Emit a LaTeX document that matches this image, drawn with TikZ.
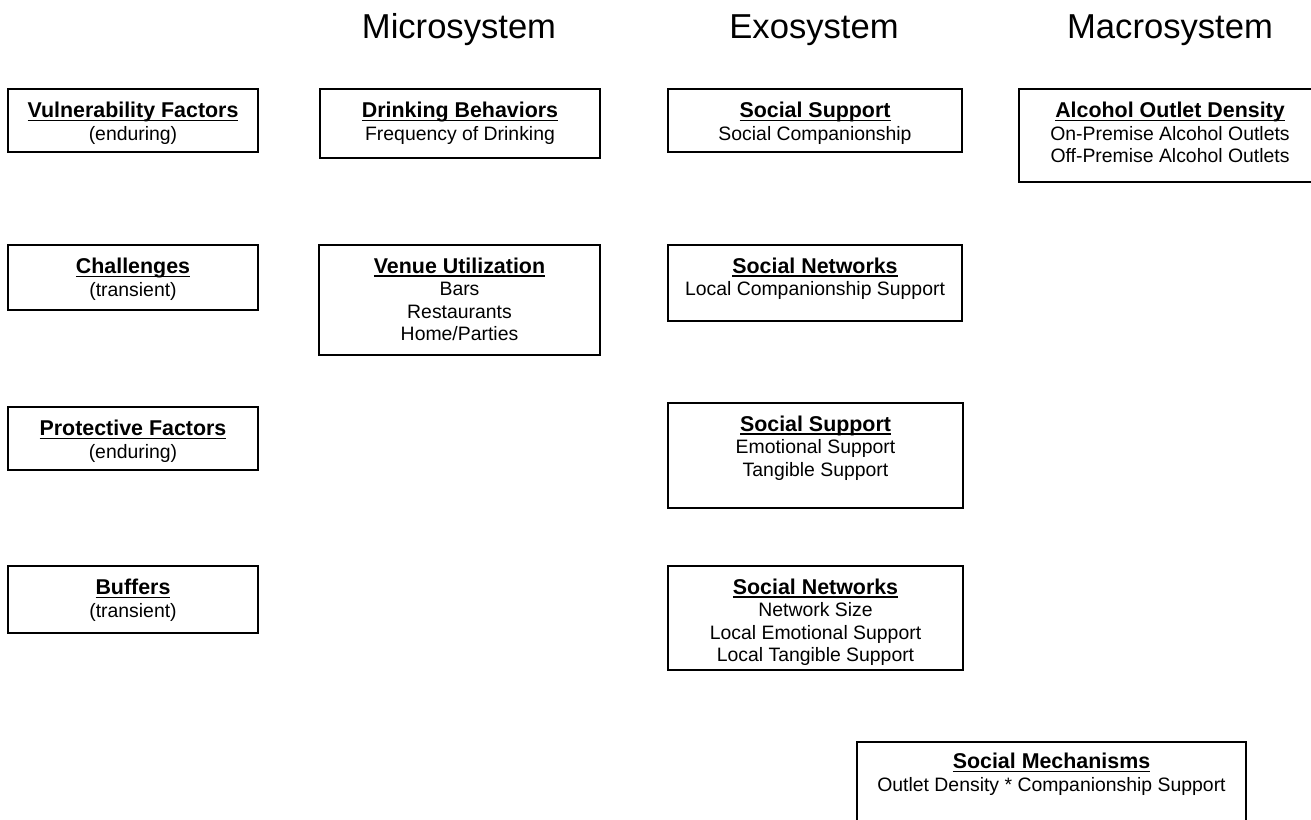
\documentclass[tikz,border=0pt]{standalone}
\usepackage{fontspec}
\setmainfont{Liberation Sans}
\usepackage{tikz}

\newsavebox{\headbox}
\newcommand{\head}[1]{{\fontsize{10.7}{11.25}\selectfont\bfseries
  \sbox{\headbox}{#1}\rlap{\rule[-1.9pt]{\wd\headbox}{0.9pt}}\usebox{\headbox}}}

\tikzset{
  box/.style 2 args={draw, line width=0.75pt, minimum width=#1*0.5pt, minimum height=#2*0.5pt, inner sep=0pt},
  boxtext/.style={anchor=base, align=center, inner sep=0pt, font=\fontsize{9.7}{11.25}\selectfont},
  system/.style={anchor=base, inner sep=0pt, font=\fontsize{17.3}{20}\selectfont}
}

\begin{document}
\begin{tikzpicture}[x=0.5pt, y=-0.5pt]
        \useasboundingbox (0,0) rectangle (1311,819);
        % column titles
        \node[system] (micro) at (459,39) {Microsystem};
        \node[system] (exo) at (814,39) {Exosystem};
        \node[system] (macro) at (1170,39) {Macrosystem};
        % left column (text placed by the baseline of its last line)
        \node[box={250}{63}] (vuln) at (133,120.5) {};
        \node[boxtext] (vulnT) at (133,140) {\head{Vulnerability Factors}\\(enduring)};
        \node[box={250}{65}] (chall) at (133,277.5) {};
        \node[boxtext] (challT) at (133,296) {\head{Challenges}\\(transient)};
        \node[box={250}{63}] (prot) at (133,438.5) {};
        \node[boxtext] (protT) at (133,458) {\head{Protective Factors}\\(enduring)};
        \node[box={250}{67}] (buff) at (133,599.5) {};
        \node[boxtext] (buffT) at (133,617) {\head{Buffers}\\(transient)};
        % microsystem
        \node[box={280}{69}] (drink) at (460,123.5) {};
        \node[boxtext] (drinkT) at (460,140) {\head{Drinking Behaviors}\\Frequency of Drinking};
        \node[box={281}{110}] (venue) at (459.5,300) {};
        \node[boxtext] (venueT) at (459.5,340.5) {\head{Venue Utilization}\\Bars\\Restaurants\\Home/Parties};
        % exosystem
        \node[box={294}{63}] (supp1) at (815,120.5) {};
        \node[boxtext] (supp1T) at (815,140) {\head{Social Support}\\Social Companionship};
        \node[box={294}{76}] (netw1) at (815,283) {};
        \node[boxtext] (netw1T) at (815,295.5) {\head{Social Networks}\\Local Companionship Support};
        \node[box={295}{105}] (supp2) at (815.5,455.5) {};
        \node[boxtext] (supp2T) at (815.5,476) {\head{Social Support}\\Emotional Support\\Tangible Support};
        \node[box={295}{104}] (netw2) at (815.5,618) {};
        \node[boxtext] (netw2T) at (815.5,661.5) {\head{Social Networks}\\Network Size\\Local Emotional Support\\Local Tangible Support};
        % macrosystem
        \node[box={302}{93}] (outlet) at (1170,135.5) {};
        \node[boxtext] (outletT) at (1170,162.5) {\head{Alcohol Outlet Density}\\On-Premise Alcohol Outlets\\Off-Premise Alcohol Outlets};
        \node[box={389}{108}] (mech) at (1051.5,796) {};
        \node[boxtext] (mechT) at (1051.5,791) {\head{Social Mechanisms}\\Outlet Density * Companionship Support};
      \end{tikzpicture}
\end{document}
